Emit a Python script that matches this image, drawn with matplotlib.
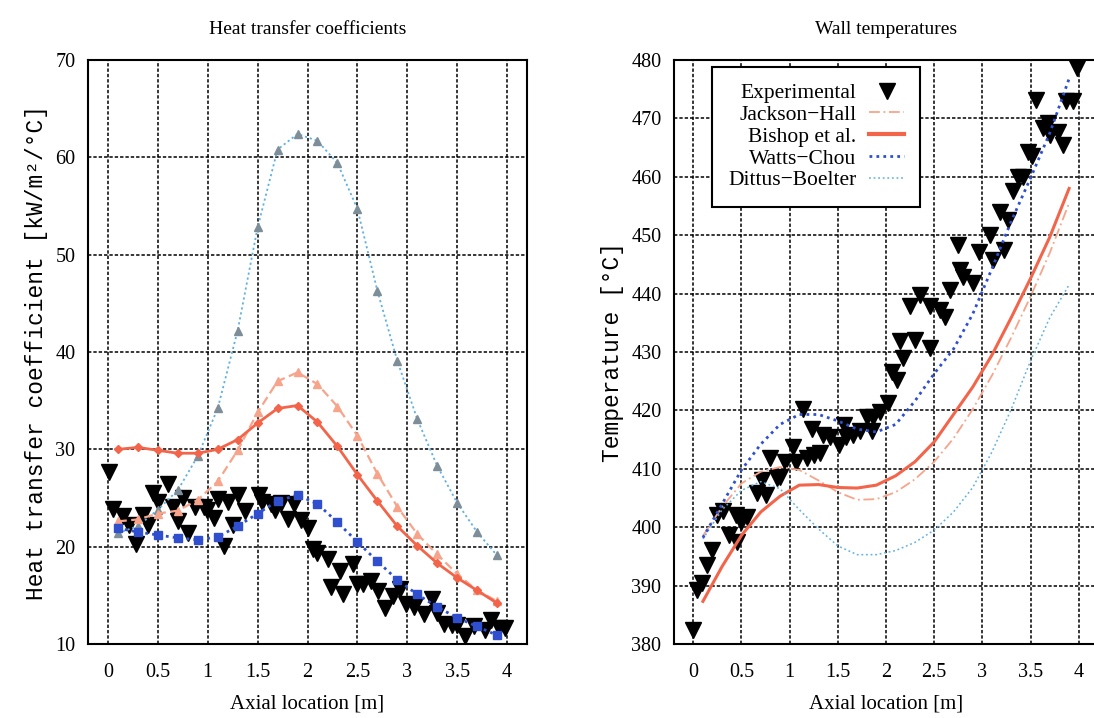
import matplotlib
matplotlib.use("Agg")
import matplotlib.pyplot as plt
from matplotlib.lines import Line2D

# ---------------- data ----------------
# model curves are evaluated at these axial locations [m]
x_model = [0.1, 0.3, 0.5, 0.7, 0.9, 1.1, 1.3, 1.5, 1.7, 1.9,
           2.1, 2.3, 2.5, 2.7, 2.9, 3.1, 3.3, 3.5, 3.7, 3.9]

# Heat transfer coefficients [kW/m2/C]
htc_jackson = [22.6, 22.8, 23.4, 23.7, 24.8, 26.7, 29.9, 33.8, 37.0, 37.9,
               36.7, 34.4, 31.4, 27.5, 24.1, 21.3, 19.2, 17.2, 15.5, 14.4]
htc_bishop = [30.0, 30.2, 29.9, 29.6, 29.6, 30.0, 31.0, 32.7, 34.2, 34.5,
              32.8, 30.3, 27.4, 24.7, 22.1, 20.1, 18.3, 16.8, 15.5, 14.2]
htc_watts = [21.9, 21.5, 21.2, 20.9, 20.7, 21.0, 22.1, 23.4, 24.7, 25.3,
             24.4, 22.5, 20.5, 18.5, 16.6, 15.1, 13.8, 12.7, 11.8, 10.9]
htc_dittus = [21.4, 22.1, 23.8, 25.8, 29.3, 34.2, 42.2, 52.8, 60.8, 62.4,
              61.7, 59.4, 54.7, 46.3, 39.1, 33.1, 28.3, 24.5, 21.5, 19.1]

htc_exp_x = [0.01, 0.05, 0.15, 0.21, 0.28, 0.35, 0.40, 0.45, 0.50, 0.60,
             0.65, 0.70, 0.75, 0.80, 0.87, 0.96, 0.99, 1.06, 1.10, 1.16,
             1.20, 1.25, 1.30, 1.37, 1.51, 1.54, 1.63, 1.67, 1.73, 1.80,
             1.86, 1.93, 2.00, 2.06, 2.10, 2.21, 2.24, 2.33, 2.36, 2.46,
             2.50, 2.56, 2.64, 2.71, 2.78, 2.86, 2.93, 2.99, 3.07, 3.17,
             3.25, 3.30, 3.37, 3.45, 3.50, 3.58, 3.67, 3.78, 3.84, 3.92,
             3.98]
htc_exp_y = [27.7, 23.9, 23.1, 22.2, 20.3, 23.3, 22.2, 25.5, 24.6, 26.4,
             24.1, 22.6, 25.0, 21.4, 24.1, 24.1, 23.8, 22.9, 24.9, 20.1,
             24.6, 22.2, 25.3, 23.7, 25.3, 24.6, 24.4, 23.8, 24.5, 22.8,
             24.4, 22.7, 21.9, 19.8, 19.4, 18.7, 15.9, 17.5, 15.1, 18.2,
             16.2, 16.2, 16.5, 15.4, 13.7, 14.9, 15.6, 14.1, 13.8, 13.1,
             14.6, 13.2, 12.1, 12.0, 12.0, 10.8, 11.8, 11.4, 12.5, 11.6,
             11.6]

# Wall temperatures [C]
tw_jackson = [398.5, 403.5, 407.5, 409.5, 410.3, 409.8, 408.0, 406.0, 404.7, 404.8,
              406.0, 408.2, 411.2, 415.2, 420.2, 426.0, 432.5, 439.5, 447.0, 455.5]
tw_bishop = [387.3, 393.3, 398.6, 402.6, 405.3, 407.2, 407.3, 406.8, 406.7, 407.2,
             408.8, 411.2, 414.6, 419.3, 424.0, 429.5, 435.9, 442.6, 449.7, 458.0]
tw_watts = [398.2, 404.0, 409.8, 414.2, 417.6, 419.3, 419.3, 418.2, 416.8, 416.3,
            417.6, 421.6, 426.3, 430.5, 436.5, 444.3, 452.4, 459.8, 467.5, 476.8]
tw_dittus = [398.0, 403.0, 406.3, 407.8, 406.6, 403.0, 399.7, 396.8, 395.3, 395.3,
             396.0, 397.4, 399.5, 402.6, 406.8, 412.9, 420.2, 428.5, 435.9, 441.5]

tw_exp_x = [0.00, 0.04, 0.09, 0.14, 0.19, 0.25, 0.31, 0.37, 0.44, 0.45,
            0.50, 0.56, 0.66, 0.71, 0.75, 0.80, 0.87, 0.90, 0.95, 1.04,
            1.07, 1.14, 1.18, 1.23, 1.25, 1.32, 1.35, 1.42, 1.51, 1.56,
            1.59, 1.66, 1.73, 1.80, 1.85, 1.87, 1.94, 2.02, 2.06, 2.11,
            2.15, 2.18, 2.25, 2.30, 2.35, 2.46, 2.46, 2.56, 2.61, 2.66,
            2.75, 2.77, 2.80, 2.90, 2.96, 3.08, 3.11, 3.18, 3.22, 3.27,
            3.32, 3.37, 3.42, 3.47, 3.51, 3.56, 3.63, 3.68, 3.70, 3.79,
            3.84, 3.87, 3.94, 3.98]
tw_exp_y = [382.4, 389.2, 390.4, 393.5, 396.1, 402.1, 402.7, 398.7, 402.1, 397.5,
            400.9, 401.8, 405.8, 408.1, 405.5, 411.8, 408.4, 408.6, 411.2, 413.8,
            411.2, 420.2, 411.8, 416.9, 412.4, 412.7, 415.8, 415.5, 414.1, 417.5,
            415.5, 415.8, 416.4, 418.9, 416.4, 418.9, 419.8, 421.2, 426.6, 425.2,
            431.8, 428.9, 437.8, 432.1, 439.8, 430.6, 437.8, 437.2, 436.0, 440.6,
            448.3, 444.0, 442.9, 441.8, 447.2, 450.0, 445.8, 454.0, 447.5, 452.6,
            457.5, 460.0, 460.0, 464.3, 463.5, 473.2, 468.3, 469.2, 467.2, 467.7,
            465.4, 472.9, 472.9, 478.6]

x_ticks = [0, 0.5, 1, 1.5, 2, 2.5, 3, 3.5, 4]
x_ticklabels = ["0", "0.5", "1", "1.5", "2", "2.5", "3", "3.5", "4"]
htc_ticks = [10, 20, 30, 40, 50, 60, 70]
tw_ticks = [380, 390, 400, 410, 420, 430, 440, 450, 460, 470, 480]

labels = ["Experimental", "Jackson\u2212Hall", "Bishop et al.", "Watts\u2212Chou", "Dittus\u2212Boelter"]
titles = ["Heat transfer coefficients", "Wall temperatures"]
ylabels = ["Heat transfer coefficient [kW/m\u00b2/\u00b0C]", "Temperature [\u00b0C]"]
xlabel = "Axial location [m]"

# ---------------- style ----------------
C_BISHOP = "#f2654a"
C_JACKSON = "#f7a48c"
C_WATTS = "#2f4fcf"
C_DITTUS = "#62b0e0"
C_DITTUS_MK = "#7d8e98"

SERIF = ["Liberation Serif", "DejaVu Serif"]
MONO = ["Liberation Mono", "DejaVu Sans Mono"]
plt.rcParams["font.family"] = SERIF

W, H = 1094, 718
fig = plt.figure(figsize=(W / 100, H / 100), dpi=100)
ax1 = fig.add_axes([88 / W, (H - 644) / H, 439 / W, 584 / H])
ax2 = fig.add_axes([674 / W, (H - 644) / H, 424 / W, 584 / H])


def style_axes(ax, yticks, ylim, title, ylab):
    ax.set_xlim(-0.2, 4.2)
    ax.set_ylim(*ylim)
    ax.set_xticks(x_ticks)
    ax.set_xticklabels(x_ticklabels)
    ax.set_yticks(yticks)
    ax.grid(True, color="black", linestyle=(0, (2.2, 1.3)), linewidth=1.1)
    ax.set_axisbelow(True)
    for s in ax.spines.values():
        s.set_linewidth(1.5)
        s.set_color("black")
    ax.tick_params(axis="both", which="both", direction="in", length=0,
                   labelsize=14.5, pad=9, colors="black")
    ax.tick_params(axis="x", pad=14)
    ax.set_title(title, fontsize=14, pad=19)
    ax.set_xlabel(xlabel, fontsize=15, labelpad=9)
    ax.set_ylabel(ylab, fontsize=16.5, family=MONO, labelpad=5)


# ---- left panel ----
ax1.plot(htc_exp_x, htc_exp_y, linestyle="none", marker="v", markersize=12,
         color="black", zorder=2)
ax1.plot(x_model, htc_dittus, linestyle=(0, (1.2, 1.6)), linewidth=1.3,
         color=C_DITTUS, marker="^", markersize=5.5, markerfacecolor=C_DITTUS_MK,
         markeredgecolor=C_DITTUS_MK, zorder=3)
ax1.plot(x_model, htc_jackson, linestyle=(0, (4, 2)), linewidth=1.6,
         color=C_JACKSON, marker="^", markersize=6, zorder=3)
ax1.plot(x_model, htc_bishop, linestyle="-", linewidth=2.0,
         color=C_BISHOP, marker="D", markersize=4.5, zorder=4)
ax1.plot(x_model, htc_watts, linestyle=(0, (1, 1.5)), linewidth=2.0,
         color=C_WATTS, marker="s", markersize=5.5, zorder=4)
style_axes(ax1, htc_ticks, (10, 70), titles[0], ylabels[0])

# ---- right panel ----
ax2.plot(tw_exp_x, tw_exp_y, linestyle="none", marker="v", markersize=12,
         color="black", zorder=2)
ax2.plot(x_model, tw_jackson, linestyle=(0, (6, 2, 1, 2)), linewidth=1.3,
         color=C_JACKSON, zorder=3)
ax2.plot(x_model, tw_bishop, linestyle="-", linewidth=2.2,
         color=C_BISHOP, zorder=3)
ax2.plot(x_model, tw_watts, linestyle=(0, (1, 1.5)), linewidth=2.0,
         color=C_WATTS, zorder=4)
ax2.plot(x_model, tw_dittus, linestyle=(0, (1.2, 1.8)), linewidth=1.1,
         color=C_DITTUS, zorder=3)
style_axes(ax2, tw_ticks, (380, 480), titles[1], ylabels[1])

handles = [
    Line2D([], [], linestyle="none", marker="v", markersize=12, color="black"),
    Line2D([], [], linestyle=(0, (6, 2, 1, 2)), linewidth=1.3, color=C_JACKSON),
    Line2D([], [], linestyle="-", linewidth=3.0, color=C_BISHOP),
    Line2D([], [], linestyle=(0, (1, 1.5)), linewidth=2.0, color=C_WATTS),
    Line2D([], [], linestyle=(0, (1.2, 1.8)), linewidth=1.1, color=C_DITTUS),
]
leg = ax2.legend(handles, labels, loc="upper right", bbox_to_anchor=(0.580, 0.988),
                 markerfirst=False, fontsize=15.5, frameon=True, fancybox=False,
                 edgecolor="black", framealpha=1.0, borderpad=0.75,
                 labelspacing=0.08, handlelength=1.6, handletextpad=0.6,
                 borderaxespad=0.0)
leg.get_frame().set_linewidth(1.5)
leg.set_zorder(10)

fig.savefig("out.png", dpi=100)
